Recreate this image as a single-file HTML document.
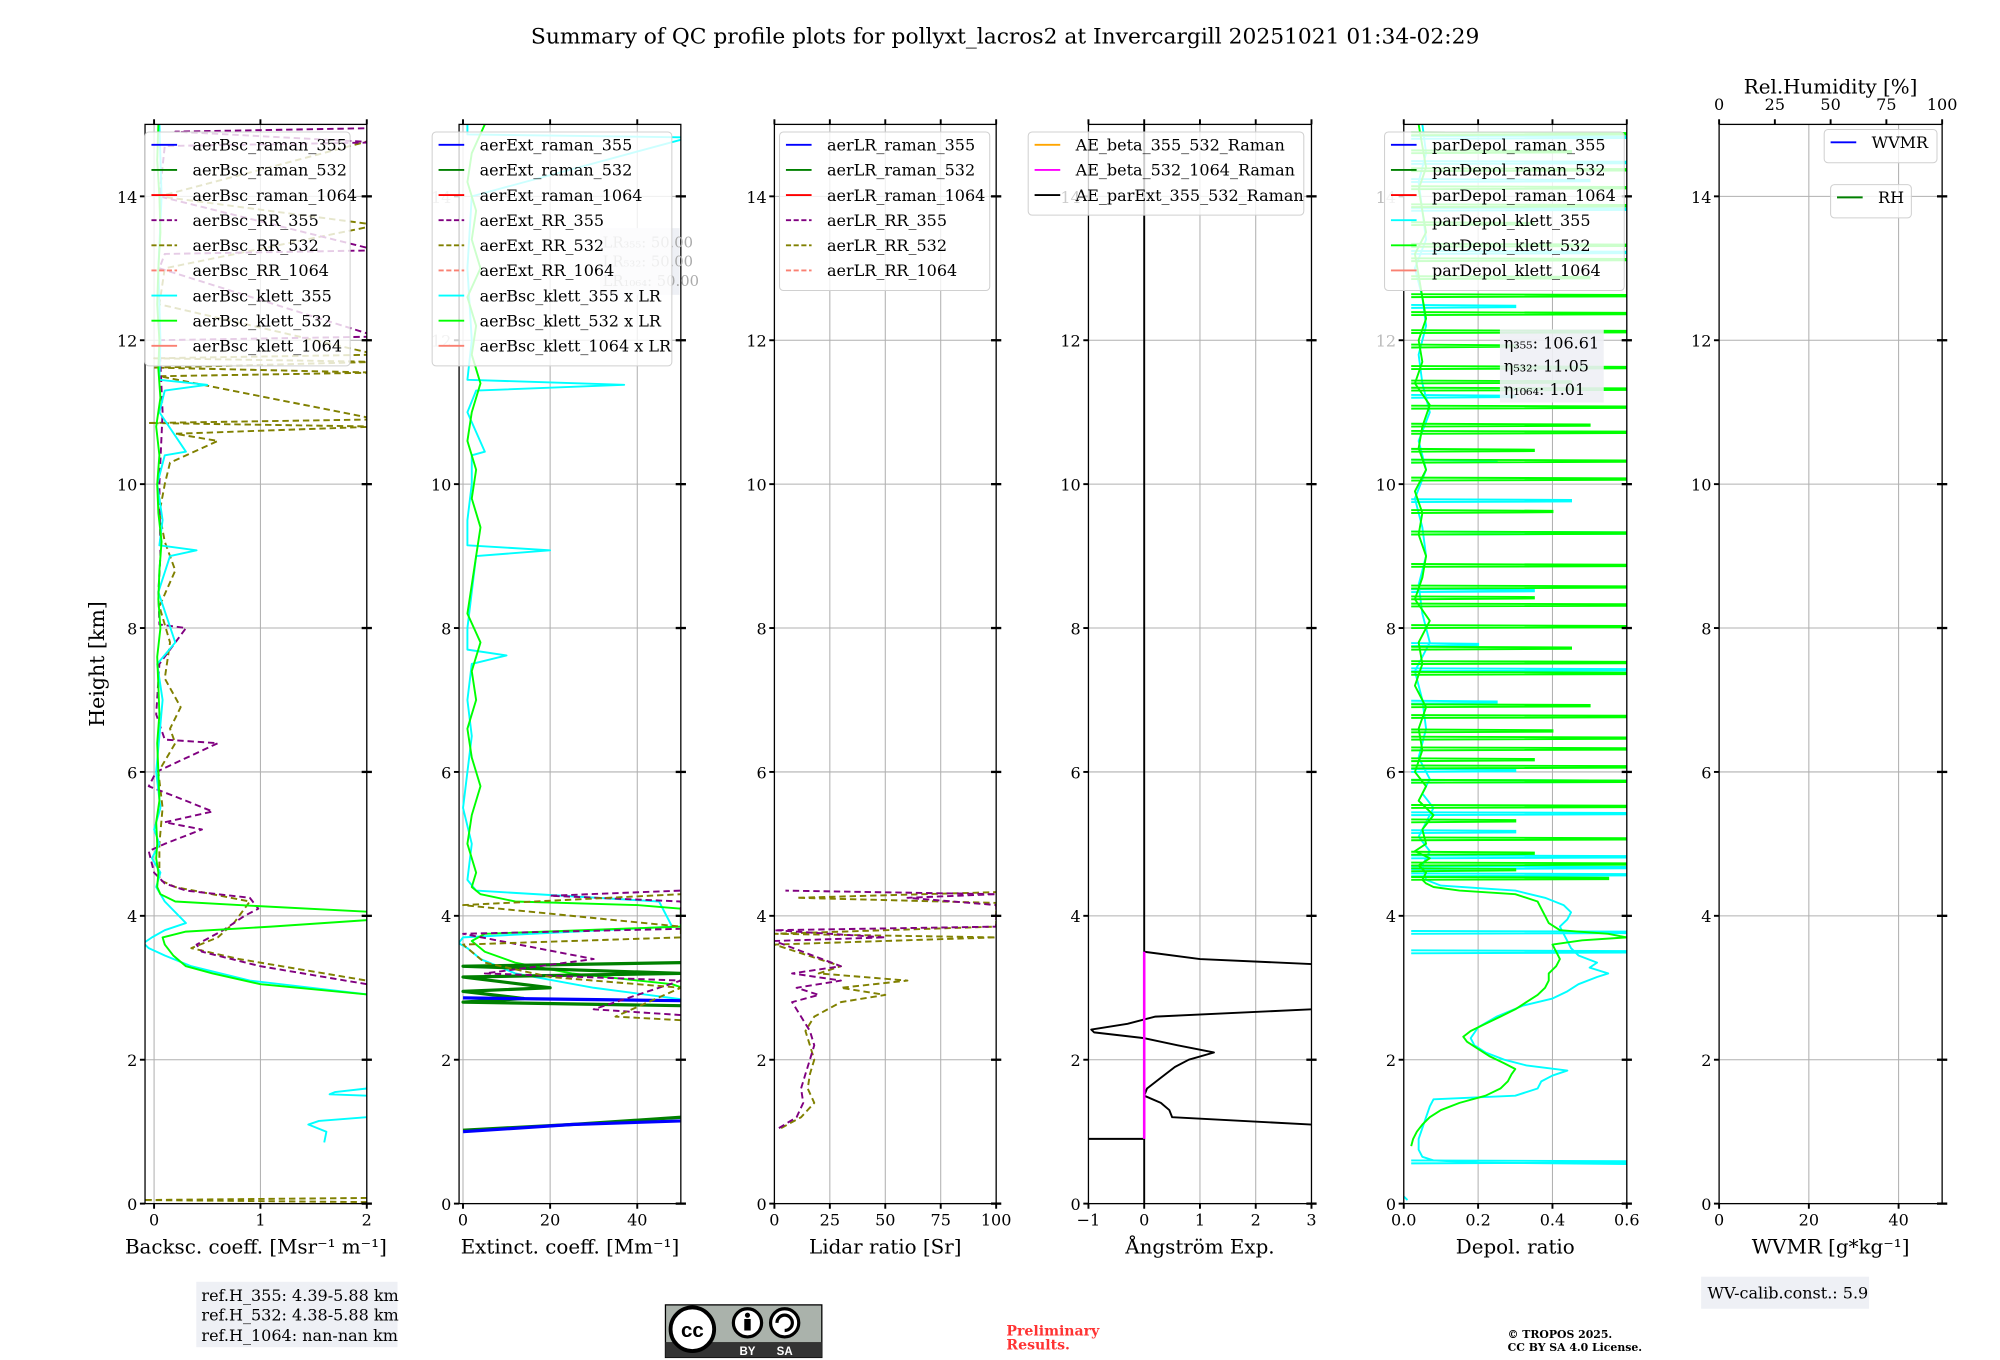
<!DOCTYPE html>
<html><head><meta charset="utf-8"><title>QC profile summary</title>
<style>
html,body{margin:0;padding:0;background:#fff;}
svg{display:block;font-family:"DejaVu Serif","Liberation Serif",serif;}
</style></head>
<body>
<svg id="fig" xmlns="http://www.w3.org/2000/svg" width="2000" height="1360" viewBox="0 0 1560 1061">
<rect x="0" y="0" width="1560" height="1061" fill="#fff"/>
<text x="784" y="34" font-size="17" text-anchor="middle">Summary of QC profile plots for pollyxt_lacros2 at Invercargill 20251021 01:34-02:29</text>
<g id="plots"></g>
<text transform="translate(81,518) rotate(-90)" font-size="16" text-anchor="middle">Height [km]</text>

<rect x="153" y="1000" width="157" height="51" fill="#eef0f5"/>
<text font-size="12.5"><tspan x="157" y="1015">ref.H_355: 4.39-5.88 km</tspan><tspan x="157" y="1030">ref.H_532: 4.38-5.88 km</tspan><tspan x="157" y="1046">ref.H_1064: nan-nan km</tspan></text>

<g>
<rect x="519" y="1018" width="122" height="41" fill="#aab2ab" stroke="#000" stroke-width="1"/>
<rect x="519" y="1047" width="122" height="12" fill="#333"/>
<circle cx="540" cy="1037" r="17" fill="#fff" stroke="#000" stroke-width="3"/>
<text x="540" y="1043" font-size="16" font-weight="bold" text-anchor="middle" font-family="Liberation Sans, sans-serif">cc</text>
<circle cx="583" cy="1032" r="11" fill="#fff" stroke="#000" stroke-width="2.5"/>
<circle cx="583" cy="1026" r="2" fill="#000"/><rect x="580.5" y="1029" width="5" height="9" fill="#000"/>
<circle cx="612" cy="1032" r="11" fill="#fff" stroke="#000" stroke-width="2.5"/>
<path d="M606,1032 a6,6 0 1 1 6,6" fill="none" stroke="#000" stroke-width="2.5"/>
<text x="583" y="1057" font-size="9" fill="#fff" text-anchor="middle" font-family="Liberation Sans, sans-serif" font-weight="bold">BY</text>
<text x="612" y="1057" font-size="9" fill="#fff" text-anchor="middle" font-family="Liberation Sans, sans-serif" font-weight="bold">SA</text>
</g>
<text font-size="11" font-weight="bold" fill="#ff3333"><tspan x="785" y="1042">Preliminary</tspan><tspan x="785" y="1053">Results.</tspan></text>
<text font-size="8.5" font-weight="bold"><tspan x="1176" y="1044">© TROPOS 2025.</tspan><tspan x="1176" y="1054">CC BY SA 4.0 License.</tspan></text>
<rect x="1327" y="996" width="131" height="25" fill="#eef0f5"/>
<text x="1332" y="1013" font-size="12.5">WV-calib.const.: 5.9</text>
</svg>
<script>
// ---------- data (heights in km, values in axis units) ----------
const hBscK532 = [2.9,3.05,3.2,3.3,3.45,3.6,3.7,3.78,3.85,3.95,4.05,4.15,4.2,4.3,4.4,4.6,4.8,5.0,5.3,5.6,6.0,6.4,6.8,7.2,7.6,8.0,8.4,8.8,9.2,9.6,10.0,10.4,10.8,11.2,11.6,12.0,12.5,13.0,13.5,14.0,14.5,15.0];
const vBscK532 = [2.05,1.0,0.55,0.3,0.18,0.1,0.08,0.3,1.1,2.1,2.1,0.8,0.2,0.06,0.03,0.04,0.02,0.03,0.02,0.05,0.04,0.03,0.05,0.04,0.03,0.06,0.04,0.05,0.07,0.04,0.03,0.05,0.02,0.06,0.04,0.05,0.03,0.04,0.06,0.05,0.03,0.04];
const hBscK355 = [0.85,1.0,1.1,1.15,1.2,1.2,1.5,1.52,1.55,1.6,2.9,3.1,3.3,3.45,3.55,3.62,3.7,3.8,3.9,4.2,4.4,4.6,4.8,5.0,5.2,5.5,6.0,6.5,7.0,7.5,7.8,8.5,9.0,9.08,9.15,9.5,10.0,10.4,10.45,11.0,11.3,11.38,11.45,12.0,13.0,14.0,15.0];
const vBscK355 = [1.6,1.62,1.45,1.55,2.0,null,2.0,1.65,1.7,2.0,2.05,0.9,0.35,0.1,-0.05,-0.1,-0.02,0.1,0.3,0.1,0.02,0.06,-0.02,0.05,0.0,0.06,0.02,0.05,0.08,0.03,0.2,0.04,0.15,0.4,0.05,0.08,0.03,0.1,0.3,0.05,0.1,0.5,0.05,0.06,0.04,0.07,0.05];
const hBscRR355 = [3.05,3.3,3.5,3.6,3.8,4.0,4.1,4.25,4.35,4.45,4.6,4.9,5.0,5.2,5.3,5.45,5.6,5.8,6.0,6.4,6.45,6.8,7.5,8.0,8.05,8.5,9.0,10.0,11.0,12.0,12.05,13.0,13.2,13.25,14.0,14.7,14.75,14.9,14.95];
const vBscRR355 = [2.0,1.0,0.45,0.4,0.65,0.85,0.98,0.9,0.3,0.1,0.0,-0.05,0.1,0.45,0.1,0.55,0.3,-0.05,0.02,0.6,0.1,0.02,0.05,0.3,0.05,0.04,0.06,0.05,0.08,0.05,2.1,0.05,0.1,2.1,0.05,0.1,2.1,0.2,2.1];
const hBscRR532 = [0.02,0.05,0.08,3.1,3.4,3.55,3.7,3.9,4.2,4.4,4.5,5.0,5.5,6.0,6.4,6.6,6.9,7.3,7.8,8.3,8.8,9.2,9.6,10.0,10.3,10.6,10.7,10.8,10.85,10.9,11.5,11.55,11.62,11.7,11.75,11.8,12.5,13.0,13.6,14.0,14.8];
const vBscRR532 = [2.1,-0.1,2.1,2.0,0.8,0.35,0.6,0.75,0.9,0.2,0.05,0.05,0.08,0.04,0.2,0.15,0.25,0.1,0.15,0.05,0.2,0.1,0.05,0.1,0.15,0.6,0.2,2.1,-0.05,2.1,0.05,2.1,0.0,2.1,0.0,2.1,0.05,0.1,2.1,0.05,2.1];

const hExtK532 = [2.9,3.05,3.2,3.35,3.5,3.65,3.75,3.85,4.1,4.15,4.2,4.3,4.4,4.6,5.0,5.4,5.8,6.2,6.6,7.0,7.4,7.8,8.2,8.6,9.0,9.4,9.8,10.2,10.6,11.0,11.4,11.8,12.2,12.6,13.0,13.4,13.8,14.2,14.6,15.0];
const vExtK532 = [55,48,25,12,5,2,5,50,50,40,12,4,2,3,1,2,4,2,1,3,2,4,1,2,3,4,2,3,1,2,4,2,3,1,4,2,3,1,2,5];
const hExtK355 = [2.8,3.0,3.2,3.4,3.55,3.62,3.7,3.85,4.2,4.35,4.5,5.0,5.5,6.0,6.5,7.0,7.5,7.62,7.7,8.0,8.5,9.0,9.08,9.15,9.5,10.0,10.4,10.45,11.0,11.3,11.38,11.45,12.0,13.0,14.0,14.82,14.86,15.0];
const vExtK355 = [55,30,12,4,1,-1,0,48,45,3,1,2,0,1,2,1,2,10,1,1,2,3,20,1,1,2,2,5,1,3,37,1,2,1,2,52,1,1];
const hExtRaman532 = [1.02,1.1,1.2,2.72,2.75,2.8,2.85,2.95,3.0,3.15,3.2,3.3,3.35];
const vExtRaman532 = [0,25,50,null,50,0,14,0,20,0,50,0,50];
const hExtRaman355 = [1.0,1.1,1.15,2.78,2.82,2.86];
const vExtRaman355 = [0,25,50,null,50,0];
const hExtRR355 = [2.62,2.7,3.1,3.2,3.4,3.75,3.82,4.2,4.28,4.35];
const vExtRR355 = [50,30,50,5,30,0,50,50,20,50];
const hExtRR532 = [2.55,2.6,3.0,3.15,3.35,3.6,3.7,3.85,4.15,4.3];
const vExtRR532 = [50,35,50,20,5,0,50,50,0,50];

const hLR355 = [1.05,1.2,1.4,1.6,1.8,2.0,2.2,2.4,2.6,2.8,2.9,3.0,3.1,3.2,3.3,3.65,3.7,3.8,3.85,4.15,4.25,4.3,4.35];
const vLR355 = [2,10,13,12,14,16,18,16,12,8,20,10,30,8,30,0,50,0,100,100,60,100,5];
const hLR532 = [1.05,1.2,1.4,1.6,1.8,2.0,2.2,2.4,2.6,2.8,2.9,3.0,3.1,3.2,3.3,3.6,3.7,3.75,3.85,4.18,4.25,4.33];
const vLR532 = [3,12,18,15,16,18,16,14,18,30,50,30,60,20,30,0,100,0,100,100,10,100];

const hAEext = [0,0.9,0.9,null,1.1,1.2,1.3,1.4,1.5,1.6,1.75,1.9,2.0,2.1,2.2,2.3,2.38,2.42,2.5,2.6,2.7,null,3.33,3.4,3.5,3.5,15];
const vAEext = [0,0,-1,null,3,0.5,0.45,0.3,0.0,0.05,0.3,0.55,0.8,1.25,0.6,0.0,-0.9,-0.95,-0.3,0.2,3,null,3,1.0,0.0,0,0];
const hAEbsc = [0.9,3.5];
const vAEbsc = [0,0];

// depol: smooth lower profile + low baseline + horizontal spikes
const hDep532 = [0.8,0.9,1.0,1.1,1.2,1.3,1.4,1.5,1.6,1.7,1.8,1.87,1.95,2.05,2.15,2.25,2.32,2.4,2.5,2.6,2.7,2.8,2.9,3.0,3.1,3.2,3.3,3.4,3.5,3.6,3.66,3.7,3.75,3.8,3.9,4.0,4.1,4.2,4.3,4.35,4.4,4.45,4.5,4.6,4.7,4.8,4.9,5.0,5.2,5.4,5.6,5.8,6.0,6.3,6.6,6.9,7.2,7.5,7.8,8.1,8.4,8.7,9.0,9.3,9.6,9.9,10.2,10.5,10.8,11.1,11.4,11.7,12.0,12.3,12.6,12.9,13.2,13.5,13.8,14.1,14.4,14.7,15.0];
const vDep532 = [0.02,0.025,0.035,0.05,0.07,0.1,0.15,0.22,0.26,0.28,0.29,0.3,0.27,0.23,0.2,0.17,0.16,0.18,0.22,0.26,0.3,0.33,0.36,0.38,0.39,0.39,0.41,0.42,0.41,0.4,0.48,0.6,0.55,0.42,0.39,0.38,0.37,0.36,0.3,0.15,0.08,0.06,0.05,0.06,0.04,0.07,0.03,0.06,0.05,0.08,0.04,0.06,0.03,0.05,0.04,0.06,0.03,0.05,0.04,0.07,0.03,0.05,0.06,0.04,0.05,0.03,0.06,0.04,0.05,0.07,0.03,0.05,0.04,0.06,0.05,0.04,0.03,0.06,0.05,0.04,0.06,0.05,0.04];
const hDep355 = [0.05,0.1,null,0.55,0.57,0.6,0.65,0.75,0.9,1.05,1.2,1.35,1.45,1.5,1.6,1.7,1.78,1.85,1.92,2.0,2.1,2.2,2.3,2.45,2.6,2.75,2.85,2.95,3.05,3.15,3.2,3.28,3.35,3.45,3.55,3.65,3.75,3.85,3.95,4.05,4.15,4.25,4.35,4.42,4.5,4.7,4.9,5.1,5.3,5.5,5.7,5.9,6.2,6.6,7.0,7.4,7.8,8.2,8.6,9.0,9.4,9.8,10.2,10.6,11.0,11.4,11.8,12.2,12.6,13.0,13.4,13.8,14.2,14.6,15.0];
const vDep355 = [0.01,0.0,null,0.6,0.2,0.08,0.05,0.04,0.04,0.05,0.06,0.07,0.08,0.3,0.36,0.37,0.4,0.44,0.33,0.27,0.22,0.19,0.18,0.2,0.25,0.32,0.4,0.44,0.47,0.52,0.55,0.5,0.52,0.47,0.45,0.44,0.43,0.42,0.44,0.45,0.43,0.38,0.3,0.1,0.06,0.05,0.07,0.04,0.06,0.08,0.05,0.07,0.04,0.06,0.05,0.03,0.07,0.05,0.04,0.06,0.05,0.03,0.06,0.04,0.07,0.05,0.04,0.06,0.05,0.03,0.06,0.05,0.04,0.06,0.05];
const spike532H = [4.5,4.62,4.7,4.85,5.05,5.3,5.5,5.85,6.05,6.15,6.3,6.45,6.55,6.75,6.9,7.35,7.5,7.7,8.0,8.3,8.4,8.55,8.85,9.3,9.6,10.05,10.3,10.45,10.7,10.8,11.05,11.3,11.4,11.6,11.9,12.1,12.35,12.6,12.85,13.1,13.3,13.6,13.85,14.1,14.35,14.6,14.85];
const spike532V = [0.55,0.3,0.6,0.35,0.6,0.3,0.6,0.6,0.6,0.35,0.6,0.6,0.4,0.6,0.5,0.6,0.6,0.45,0.6,0.6,0.35,0.6,0.6,0.6,0.4,0.6,0.6,0.35,0.6,0.5,0.6,0.6,0.45,0.6,0.3,0.6,0.6,0.6,0.5,0.6,0.6,0.35,0.6,0.6,0.6,0.45,0.6];
const spike355H = [0.56,3.48,3.75,4.55,4.65,4.8,5.15,5.4,5.85,6.0,6.95,7.4,7.75,8.5,9.3,9.75,10.3,11.2,12.45,13.2,13.8,14.2,14.45,14.8];
const spike355V = [0.6,0.6,0.6,0.6,0.6,0.6,0.3,0.6,0.6,0.3,0.25,0.6,0.2,0.35,0.6,0.45,0.25,0.3,0.3,0.6,0.6,0.5,0.6,0.6];

const xTicks1 = [0,1,2], xTicks2 = [0,20,40], xTicks3 = [0,25,50,75,100], xTicks4 = [-1,0,1,2,3], xTicks5 = [0.0,0.2,0.4,0.6], xTicks6 = [0,20,40], rhTicks = [0,25,50,75,100];
const yTicks = [0,2,4,6,8,10,12,14];

// ---------- layout ----------
const Y0 = 939, PXKM = 56.13, YTOP = Y0 - 15*PXKM;
const NS = 'http://www.w3.org/2000/svg';
const root = document.getElementById('plots');
function mk(tag, attrs, parent){const e=document.createElementNS(NS,tag);for(const k in attrs)e.setAttribute(k,attrs[k]);(parent||root).appendChild(e);return e;}
const Y = h => Y0 - h*PXKM;

const panels = [
 {id:'bsc', x0:113, x1:286, min:-0.085, max:2.0, ticks:xTicks1, fmt:v=>String(v), label:'Backsc. coeff. [Msr⁻¹ m⁻¹]'},
 {id:'ext', x0:358, x1:531, min:-0.9, max:50, ticks:xTicks2, fmt:v=>String(v), label:'Extinct. coeff. [Mm⁻¹]'},
 {id:'lr', x0:604, x1:777, min:0, max:100, ticks:xTicks3, fmt:v=>String(v), label:'Lidar ratio [Sr]'},
 {id:'ae', x0:849, x1:1023, min:-1, max:3, ticks:xTicks4, fmt:v=>v<0?'−'+(-v):String(v), label:'Ångström Exp.'},
 {id:'dep', x0:1095, x1:1269, min:0, max:0.6, ticks:xTicks5, fmt:v=>v.toFixed(1), label:'Depol. ratio'},
 {id:'wv', x0:1341, x1:1515, min:0, max:49.7, ticks:xTicks6, fmt:v=>String(v), label:'WVMR [g*kg⁻¹]'}
];
function X(p,v){return p.x0 + (v-p.min)/(p.max-p.min)*(p.x1-p.x0);}

function drawPanel(p){
  const g = mk('g',{});
  
  
  const cp = mk('clipPath',{id:'clip-'+p.id}, g);
  mk('rect',{x:p.x0,y:YTOP,width:p.x1-p.x0,height:Y0-YTOP},cp);
  p.ticks.forEach(t=>{const gl=mk('line',{x1:X(p,t),x2:X(p,t),y1:YTOP,y2:Y0,stroke:'#b0b0b0','stroke-width':0.8},g);
    });
  yTicks.forEach(t=>{const gl=mk('line',{x1:p.x0,x2:p.x1,y1:Y(t),y2:Y(t),stroke:'#b0b0b0','stroke-width':0.8},g);
    });
  p.g = g; p.plot = mk('g',{'clip-path':'url(#clip-'+p.id+')'},g);
  return g;
}
function finishPanel(p){
  const g=p.g;
  const fr=mk('rect',{x:p.x0,y:YTOP,width:p.x1-p.x0,height:Y0-YTOP,fill:'none',stroke:'#000','stroke-width':1},g);
  
  p.ticks.forEach(t=>{
    const x=X(p,t);
    mk('line',{x1:x,x2:x,y1:Y0,y2:Y0+4,stroke:'#000','stroke-width':1.5},g);
    if(p.id!=='wv') mk('line',{x1:x,x2:x,y1:YTOP,y2:YTOP-4,stroke:'#000','stroke-width':1.5},g);
    const tl=mk('text',{x:x,y:Y0+17,'font-size':12.5,'text-anchor':'middle'},g);tl.textContent=p.fmt(t);
    
  });
  yTicks.forEach(t=>{
    mk('line',{x1:p.x0-4,x2:p.x0,y1:Y(t),y2:Y(t),stroke:'#000','stroke-width':1.5},g);
    mk('line',{x1:p.x1-4,x2:p.x1+4,y1:Y(t),y2:Y(t),stroke:'#000','stroke-width':1.8},g);
    const tl=mk('text',{x:p.x0-6,y:Y(t)+5,'font-size':12.5,'text-anchor':'end',fill:(p.id==='ext'||p.id==='dep')&&t>=12?'#bbbbbb':'#000'},g);tl.textContent=String(t);
    
  });
  const al=mk('text',{x:(p.x0+p.x1)/2,y:978,'font-size':15.5,'text-anchor':'middle'},g);
  al.textContent=p.label;
  
}
function series(p,hs,vs,color,dash,name,w){
  let d='',pen=false;
  for(let i=0;i<hs.length;i++){
    if(hs[i]===null||vs[i]===null){pen=false;continue;}
    d+=(pen?'L':'M')+X(p,vs[i]).toFixed(1)+','+Y(hs[i]).toFixed(1);pen=true;
  }
  const e=mk('path',{d:d,fill:'none',stroke:color,'stroke-width':w||1.5,'stroke-dasharray':dash||'none','stroke-linejoin':'round'},p.plot);
  
  
}
function spikes(p,hs,vs,color,name){
  let d='';
  for(let i=0;i<hs.length;i++){
    const x0=X(p,0.02), x1=X(p,vs[i]);
    d+='M'+x0.toFixed(1)+','+Y(hs[i]).toFixed(1)+'L'+x1.toFixed(1)+','+Y(hs[i]+0.01).toFixed(1)+'L'+x1.toFixed(1)+','+Y(hs[i]+0.03).toFixed(1)+'L'+x0.toFixed(1)+','+Y(hs[i]+0.04).toFixed(1);
  }
  const e=mk('path',{d:d,fill:'none',stroke:color,'stroke-width':1.5},p.plot);
  
  
}
function legend(x,y,w,items,name,rowH){
  rowH=rowH||19.6;
  const g=mk('g',{});
  
  
  mk('rect',{x:x,y:y,width:w,height:items.length*rowH+6,rx:3,fill:'#fff','fill-opacity':0.8,stroke:'#d0d0d0','stroke-width':0.8},g);
  items.forEach((it,i)=>{
    const cy=y+10+i*rowH;
    mk('line',{x1:x+5,x2:x+25,y1:cy,y2:cy,stroke:it[1],'stroke-width':1.5,'stroke-dasharray':it[2]?'4,2':'none'},g);
    const t=mk('text',{x:x+37,y:cy+4.5,'font-size':12.5},g);t.textContent=it[0];
    
  });
}

panels.forEach(drawPanel);
const [P1,P2,P3,P4,P5,P6]=panels;
series(P1,hBscRR532,vBscRR532,'#808000','5,3','aerBsc-RR-532');
series(P1,hBscRR355,vBscRR355,'#800080','5,3','aerBsc-RR-355');
series(P1,hBscK355,vBscK355,'#00ffff',null,'aerBsc-klett-355');
series(P1,hBscK532,vBscK532,'#00ff00',null,'aerBsc-klett-532');
series(P2,hExtK355,vExtK355,'#00ffff',null,'aerBsc-klett-355-x-LR');
series(P2,hExtK532,vExtK532,'#00ff00',null,'aerBsc-klett-532-x-LR');
series(P2,hExtRaman532,vExtRaman532,'#008000',null,'aerExt-raman-532',2.5);
series(P2,hExtRaman355,vExtRaman355,'#0000ff',null,'aerExt-raman-355',2.5);
series(P2,hExtRR355,vExtRR355,'#800080','5,3','aerExt-RR-355');
series(P2,hExtRR532,vExtRR532,'#808000','5,3','aerExt-RR-532');
series(P3,hLR532,vLR532,'#808000','5,3','aerLR-RR-532');
series(P3,hLR355,vLR355,'#800080','5,3','aerLR-RR-355');
series(P4,hAEext,vAEext,'#000000',null,'AE-parExt-355-532-raman');
series(P4,hAEbsc,vAEbsc,'#ff00ff',null,'AE-beta-532-1064-raman',2);
series(P5,hDep355,vDep355,'#00ffff',null,'parDepol-klett-355');
spikes(P5,spike355H,spike355V,'#00ffff','parDepol-klett-355-spikes');
series(P5,hDep532,vDep532,'#00ff00',null,'parDepol-klett-532');
spikes(P5,spike532H,spike532V,'#00ff00','parDepol-klett-532-spikes');
panels.forEach(finishPanel);

(function(){const g=mk('g',{});
 mk('rect',{x:468,y:178,width:62,height:52,fill:'#eef0f5'},g);
 ['LR₃₅₅: 50.00','LR₅₃₂: 50.00','LR₁₀₆₄: 50.00'].forEach((s,i)=>{const t=mk('text',{x:470,y:193+i*15,'font-size':11.5,fill:'#aaa'},g);t.textContent=s;});})();

legend(113,103,160,[['aerBsc_raman_355','#0000ff'],['aerBsc_raman_532','#008000'],['aerBsc_raman_1064','#ff0000'],['aerBsc_RR_355','#800080',1],['aerBsc_RR_532','#808000',1],['aerBsc_RR_1064','#fa8072',1],['aerBsc_klett_355','#00ffff'],['aerBsc_klett_532','#00ff00'],['aerBsc_klett_1064','#fa8072']],'legend-backscatter');
legend(337,103,187,[['aerExt_raman_355','#0000ff'],['aerExt_raman_532','#008000'],['aerExt_raman_1064','#ff0000'],['aerExt_RR_355','#800080',1],['aerExt_RR_532','#808000',1],['aerExt_RR_1064','#fa8072',1],['aerBsc_klett_355 x LR','#00ffff'],['aerBsc_klett_532 x LR','#00ff00'],['aerBsc_klett_1064 x LR','#fa8072']],'legend-extinction');
legend(608,103,164,[['aerLR_raman_355','#0000ff'],['aerLR_raman_532','#008000'],['aerLR_raman_1064','#ff0000'],['aerLR_RR_355','#800080',1],['aerLR_RR_532','#808000',1],['aerLR_RR_1064','#fa8072',1]],'legend-lidar-ratio');
legend(802,103,215,[['AE_beta_355_532_Raman','#ffa500'],['AE_beta_532_1064_Raman','#ff00ff'],['AE_parExt_355_532_Raman','#000000']],'legend-angstrom');
legend(1080,103,187,[['parDepol_raman_355','#0000ff'],['parDepol_raman_532','#008000'],['parDepol_raman_1064','#ff0000'],['parDepol_klett_355','#00ffff'],['parDepol_klett_532','#00ff00'],['parDepol_klett_1064','#fa8072']],'legend-depol');
legend(1423,101,88,[['WVMR','#0000ff']],'legend-wvmr',20);
legend(1428,144,63,[['RH','#008000']],'legend-rh',20);

(function(){const g=mk('g',{});
 mk('rect',{x:1170,y:257,width:81,height:57,fill:'#eef0f5','fill-opacity':0.9},g);
 [['η₃₅₅',': 106.61'],['η₅₃₂',': 11.05'],['η₁₀₆₄',': 1.01']].forEach((s,i)=>{const t=mk('text',{x:1173,y:272+i*18,'font-size':12.5},g);t.textContent=s[0]+s[1];});})();

(function(){const g=mk('g',{});
 rhTicks.forEach(t=>{const x=1341+t/100*174;mk('line',{x1:x,x2:x,y1:YTOP,y2:YTOP-4,stroke:'#000','stroke-width':1.5},g);
  const tl=mk('text',{x:x,y:86,'font-size':12.5,'text-anchor':'middle'},g);tl.textContent=String(t);
  });
 const tt=mk('text',{x:1428,y:73,'font-size':15.5,'text-anchor':'middle'},g);tt.textContent='Rel.Humidity [%]';
 })();
</script>
</body></html>
